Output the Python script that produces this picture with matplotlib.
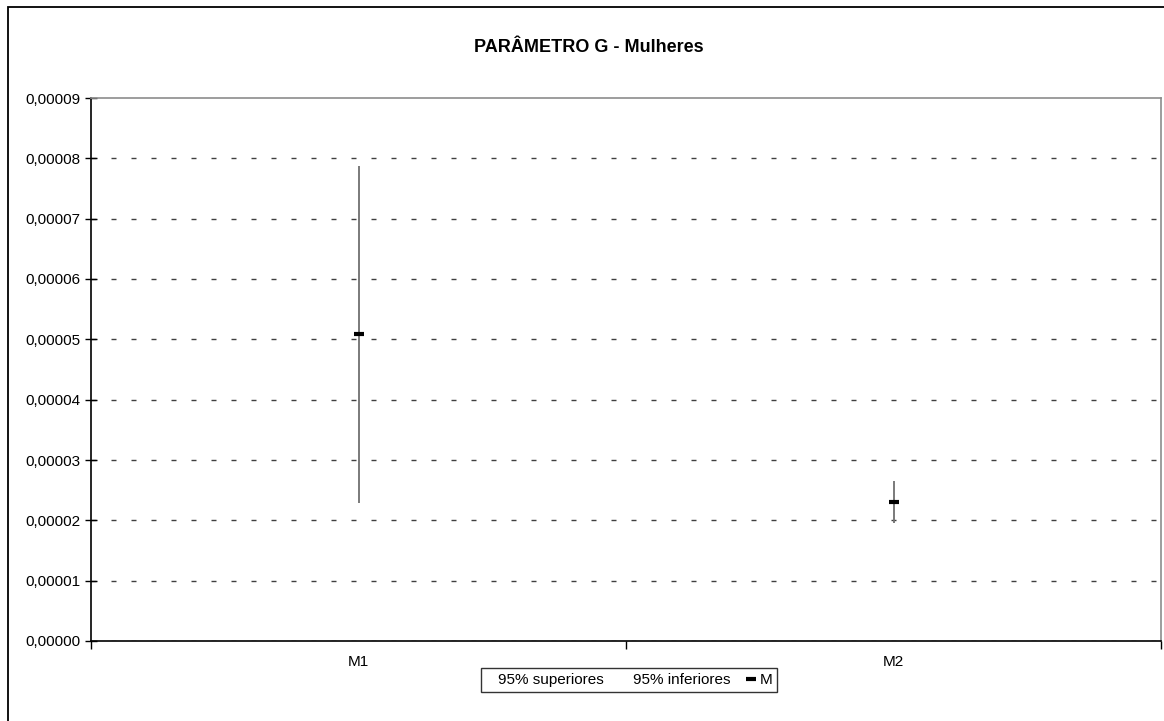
import matplotlib.pyplot as plt
from matplotlib.lines import Line2D
from matplotlib.patches import Rectangle
from matplotlib.ticker import FuncFormatter, FixedLocator

plt.rcParams['font.family'] = ['Liberation Sans', 'DejaVu Sans']

# Intervalos de 95% e média do parâmetro G
grupos = ['M1', 'M2']
superiores = [0.0000788, 0.0000265]
inferiores = [0.0000228, 0.0000195]
medias = [0.0000509, 0.0000231]

fig = plt.figure(figsize=(11.64, 7.21), dpi=100)
ax = fig.add_axes([91 / 1164, 1 - 641 / 721, 1070 / 1164, 543 / 721])

x = list(range(len(grupos)))
ax.vlines(x, inferiores, superiores, color='#707070', linewidth=1.3, zorder=3)
ax.plot(x, medias, linestyle='none', marker='_', markersize=7.5,
        markeredgewidth=3, color='black', zorder=4)

ax.set_xlim(-0.5, len(grupos) - 0.5)
ax.set_ylim(0, 0.00009)
ax.set_yticks([i * 0.00001 for i in range(10)])
ax.yaxis.set_major_formatter(FuncFormatter(lambda v, p: f'{v:.5f}'.replace('.', ',')))

# marcas nas divisões entre categorias, rótulos no centro
ax.xaxis.set_major_locator(FixedLocator([i - 0.5 for i in range(len(grupos) + 1)]))
ax.xaxis.set_minor_locator(FixedLocator(x))
ax.set_xticklabels([])
ax.set_xticklabels(grupos, minor=True)
ax.tick_params(axis='x', which='major', direction='out', length=6, width=1, color='black')
ax.tick_params(axis='x', which='minor', length=0, pad=10, labelsize=11)
ax.tick_params(axis='y', direction='inout', length=9, width=1, labelsize=11, pad=3)

ax.grid(True, axis='y', color='#404040', linewidth=1, linestyle=(0, (3.6, 10.8)))
ax.set_axisbelow(True)
# a linha de grade do topo fica sob a borda cinza
ax.get_ygridlines()[-1].set_visible(False)

for lado in ['top', 'right']:
    ax.spines[lado].set_color('#8c8c8c')
    ax.spines[lado].set_linewidth(1.2)
for lado in ['left', 'bottom']:
    ax.spines[lado].set_color('black')
    ax.spines[lado].set_linewidth(1.2)

fig.text(0.506, 1 - 48 / 721, 'PARÂMETRO G - Mulheres', ha='center', va='center',
         fontsize=13, fontweight='bold')

handles = [
    Line2D([], [], linestyle='none'),
    Line2D([], [], linestyle='none'),
    Line2D([], [], linestyle='none', marker='_', markersize=6.5, markeredgewidth=3, color='black'),
]
leg = fig.legend(handles, ['95% superiores', '95% inferiores', 'M'], ncol=3,
                 loc='center', bbox_to_anchor=(629 / 1164, 1 - 680 / 721),
                 fontsize=11, frameon=True, fancybox=False, edgecolor='black',
                 handlelength=0.5, handletextpad=0.3, columnspacing=1.1,
                 borderpad=0.3, borderaxespad=0)
leg.get_frame().set_linewidth(1)

# moldura externa do gráfico
fig.add_artist(Rectangle((8 / 1164, -0.1), 1.2, 1.1 - 7 / 721, transform=fig.transFigure,
                         fill=False, edgecolor='black', linewidth=1.3, clip_on=False))

fig.savefig('out.png', dpi=100)
